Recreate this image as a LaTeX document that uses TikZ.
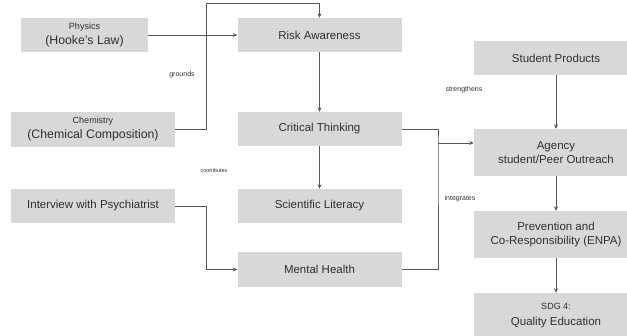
\documentclass[tikz,border=0pt]{standalone}
\usepackage{fontspec}
\setmainfont{Liberation Sans}
\usetikzlibrary{positioning,arrows.meta}

\definecolor{boxgray}{RGB}{216,216,216}
\definecolor{linegray}{RGB}{88,88,88}
\definecolor{txtgray}{RGB}{48,48,48}

\newcommand{\smalltxt}{\fontsize{9}{11}\selectfont}
\newcommand{\bigtxt}{\fontsize{12.3}{14}\selectfont}

\tikzset{
	block/.style={fill=boxgray, text=txtgray, minimum width=164pt, minimum height=34pt,
		inner sep=1pt, align=center, font=\fontsize{11.5}{14}\selectfont},
	note/.style={text=txtgray, inner sep=0pt, font=\fontsize{7}{8}\selectfont},
	link/.style={draw=linegray, line width=0.8pt},
}

\begin{document}
\begin{tikzpicture}[x=1pt,y=-1pt,node distance=94pt,on grid,>={Stealth[length=4.5pt,width=4pt]}]
		\useasboundingbox (0,0) rectangle (627,335);
		\clip (0,0) rectangle (627,335);

		% sources on the left
		\node[block, minimum width=127pt] (phys) at (84.5,35)  {\smalltxt Physics\\[1pt]\bigtxt (Hooke's Law)};
		\node[block, minimum height=35pt] (chem) at (93,129.5) {\smalltxt Chemistry\\[1pt]\bigtxt (Chemical Composition)};
		\node[block                     ] (intv) at (93,206)   {Interview with Psychiatrist};

		% middle column
		\node[block                     ] (risk) at (319.5,35)        {Risk Awareness};
		\node[block                     ] (crit) [below=94pt of risk] {Critical Thinking};
		\node[block                     ] (sci)  [below=77pt of crit] {Scientific Literacy};
		\node[block, minimum height=35pt] (ment) [below=63.5pt of sci] {Mental Health};

		% right column
		\node[block                     ] (prod) at (556,58)           {Student Products};
		\node[block, minimum height=47pt] (agen) at (556,152.5)        {Agency\\student/Peer Outreach};
		\node[block, minimum height=47pt] (prev) [below=82pt of agen]  {Prevention and\\Co-Responsibility (ENPA)};
		\node[block, minimum height=46pt] (sdg)  [below=81.5pt of prev] {\smalltxt SDG 4:\\[2pt]Quality Education};

		% labels
		\node[note] (lgro) at (182,75)  {grounds};
		\node[note, font=\fontsize{5.5}{6}\selectfont] (lcon) at (214,171) {contributes};
		\node[note] (lstr) at (464,90)  {strengthens};
		\node[note] (lint) at (460,199) {integrates};

		% bends
		\coordinate (c1) at (206,3);
		\coordinate (c2) at (206,206);
		\coordinate (j)  at (438,143);

		\draw[link,->] (phys) -- (risk);
		\draw[link,->] (chem.east) -| (c1) -| (risk.north);
		\draw[link,->] (risk) -- (crit);
		\draw[link,->] (crit) -- (sci);
		\draw[link,->] (intv.east) -- (c2) |- (ment.west);
		\draw[link]    (crit.east) -| (j) |- (ment.east);
		\draw[link,->] (j) -- (agen.west |- j);
		\draw[link,->] (prod) -- (agen);
		\draw[link,->] (agen) -- (prev);
		\draw[link,->] (prev) -- (sdg);

	\end{tikzpicture}
\end{document}
